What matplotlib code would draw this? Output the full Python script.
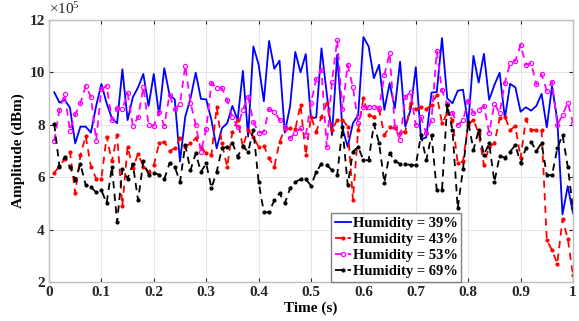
import numpy as np
import matplotlib
matplotlib.use("Agg")
import matplotlib.pyplot as plt

# time axis (s)
t = np.arange(1, 101) / 100

# amplitudes in units of 1e5
hum39 = [9.24, 8.85, 8.95, 8.65, 7.29, 7.93, 7.93, 7.70, 8.72, 9.56,
         8.82, 8.25, 8.06, 10.12, 8.18, 9.05, 9.43, 9.94, 8.72, 9.94,
         8.37, 10.16, 9.14, 8.97, 6.6, 8.31, 9.0, 9.99, 8.99, 8.97,
         8.18, 7.1, 7.87, 8.06, 8.72, 8.18, 10.06, 7.55, 10.99, 10.3,
         8.9, 11.2, 10.14, 10.45, 7.7, 8.7, 10.78, 10.0, 10.7, 8.25,
         8.28, 10.92, 9.2, 7.61, 10.67, 7.87, 7.16, 8.06, 8.37, 11.35,
         10.99, 9.78, 10.29, 8.57, 9.59, 8.63, 10.41, 7.93, 8.57, 10.2,
         7.44, 7.52, 9.23, 9.25, 11.31, 9.01, 8.82, 9.3, 9.34, 8.03,
         10.63, 9.61, 10.71, 8.95, 9.52, 9.99, 8.25, 9.56, 9.43, 8.5,
         8.67, 8.54, 8.72, 9.18, 7.9, 9.48, 8.18, 4.58, 5.66, 4.62]

hum43 = [6.17, 6.42, 6.7, 6.97, 5.4, 6.85, 7.57, 6.4, 5.95, 5.95,
         7.55, 6.6, 7.61, 4.9, 7.16, 6.34, 6.9, 6.4, 6.2, 6.45,
         7.29, 7.35, 7.0, 7.1, 7.48, 7.16, 7.29, 7.48, 7.16, 6.91,
         6.85, 8.67, 7.29, 6.4, 7.74, 8.18, 7.16, 7.8, 7.55, 7.16,
         7.2, 6.72, 6.4, 7.35, 7.83, 7.86, 7.83, 8.76, 6.85, 8.31,
         7.74, 8.3, 8.82, 7.8, 8.18, 8.2, 7.93, 5.13, 7.8, 9.01,
         8.37, 8.3, 8.57, 7.61, 7.9, 7.86, 7.7, 7.74, 8.82, 8.6,
         8.67, 8.6, 8.76, 9.14, 8.06, 8.44, 8.18, 6.53, 6.6, 8.0,
         8.2, 7.67, 6.46, 7.16, 7.29, 8.25, 8.31, 7.8, 7.95, 6.72,
         8.21, 7.8, 7.8, 7.8, 3.6, 3.21, 2.7, 4.39, 3.66, 2.26]

hum53 = [7.38, 8.57, 9.18, 7.77, 8.4, 8.82, 9.48, 9.07, 7.4, 9.36,
         9.48, 8.18, 8.63, 8.6, 9.2, 7.97, 8.28, 9.43, 8.0, 7.97,
         8.48, 7.97, 9.14, 8.6, 8.8, 10.25, 8.85, 8.0, 6.97, 7.83,
         9.6, 9.4, 9.4, 8.95, 8.3, 7.93, 8.58, 9.07, 8.12, 7.7,
         7.74, 8.6, 8.5, 8.2, 7.9, 7.48, 7.7, 7.86, 7.6, 8.85,
         9.74, 10.1, 7.16, 9.65, 11.24, 8.59, 10.29, 9.43, 8.06, 8.69,
         8.69, 8.69, 8.63, 9.9, 10.73, 7.93, 7.42, 9.07, 9.25, 7.99,
         8.28, 7.67, 8.2, 10.8, 9.31, 8.8, 8.46, 7.99, 8.17, 8.92,
         8.44, 8.57, 8.72, 7.7, 8.8, 8.45, 9.61, 10.35, 10.45, 11.05,
         10.29, 10.35, 9.54, 9.92, 9.3, 9.65, 7.99, 8.37, 8.85, 8.07]

hum69 = [8.03, 6.4, 6.78, 6.4, 5.89, 6.5, 5.7, 5.63, 5.42, 5.5,
         5.01, 6.4, 4.29, 6.3, 5.95, 6.5, 5.12, 6.6, 6.1, 6.15,
         6.1, 5.92, 6.53, 6.4, 5.82, 7.23, 6.27, 6.91, 6.2, 6.53,
         5.59, 6.2, 7.1, 7.16, 7.32, 6.78, 7.18, 6.97, 7.8, 5.82,
         4.66, 4.66, 5.12, 5.39, 5.0, 5.57, 5.82, 5.92, 5.92, 5.68,
         6.2, 6.52, 6.47, 6.27, 6.08, 7.9, 5.7, 6.97, 7.16, 6.65,
         6.65, 8.03, 7.29, 5.79, 6.91, 6.63, 6.5, 6.5, 6.47, 6.47,
         7.61, 6.65, 7.61, 5.5, 5.52, 8.76, 7.8, 4.81, 6.3, 8.12,
         7.04, 7.8, 6.85, 7.29, 5.82, 6.81, 6.75, 6.97, 7.23, 6.53,
         7.1, 7.35, 7.0, 7.3, 6.08, 6.08, 7.1, 7.61, 6.4, 4.81]

labels = ["Humidity = 39%", "Humidity = 43%", "Humidity = 53%", "Humidity = 69%"]

plt.rcParams["font.family"] = ["Liberation Serif", "DejaVu Serif"]
plt.rcParams["font.weight"] = "bold"
plt.rcParams["mathtext.fontset"] = "custom"
plt.rcParams["mathtext.rm"] = "Liberation Serif"
plt.rcParams["mathtext.default"] = "regular"

fig = plt.figure(figsize=(5.79, 3.21), dpi=100)
ax = fig.add_axes([49 / 579, 1 - 282 / 321, 524 / 579, 262 / 321])

ax.plot(t, hum39, color="#0000ff", linewidth=1.3, label=labels[0])
ax.plot(t, hum43, color="#ff0000", linewidth=1.3, linestyle="--", dashes=(4, 3),
        marker=".", markersize=4, label=labels[1])
ax.plot(t, hum53, color="#ff00ff", linewidth=1.3, linestyle="--", dashes=(4, 3),
        marker="o", markersize=3, markerfacecolor="none", markeredgewidth=0.9, label=labels[2])
ax.plot(t, hum69, color="#000000", linewidth=1.3, linestyle="--", dashes=(4, 3),
        marker=".", markersize=4, label=labels[3])

ax.set_xlim(0, 1)
ax.set_ylim(2, 12)
ax.set_xticks(np.arange(0, 1.01, 0.1))
ax.set_xticklabels(["0", "0.1", "0.2", "0.3", "0.4", "0.5", "0.6", "0.7", "0.8", "0.9", "1"])
ax.set_yticks([2, 4, 6, 8, 10, 12])
ax.tick_params(direction="in", length=3, top=True, right=True, labelsize=11,
               colors="#262626", pad=3)
for lab in ax.get_xticklabels() + ax.get_yticklabels():
    lab.set_fontweight("bold")
for s in ax.spines.values():
    s.set_color("#c0c0c0")
    s.set_linewidth(1.0)
ax.grid(color="#e6e6e6", linewidth=0.8)
ax.set_axisbelow(True)

ax.set_xlabel("Time (s)", fontsize=11, fontweight="bold", labelpad=2)
ax.set_ylabel("Amplitude (dBm)", fontsize=11, fontweight="bold", labelpad=3)
ax.text(0.0, 1.01, r"$\times10^5$", transform=ax.transAxes, fontsize=11,
        ha="left", va="bottom", fontweight="normal", color="#262626")

leg = ax.legend(loc="lower left", bbox_to_anchor=(0.538, 0.0), fontsize=10.5,
                handlelength=1.1, handletextpad=0.15, borderpad=0.25,
                labelspacing=0.2, borderaxespad=0.0, fancybox=False,
                framealpha=1, edgecolor="#808080")
for txt in leg.get_texts():
    txt.set_fontweight("bold")

fig.savefig("out.png", dpi=100)
